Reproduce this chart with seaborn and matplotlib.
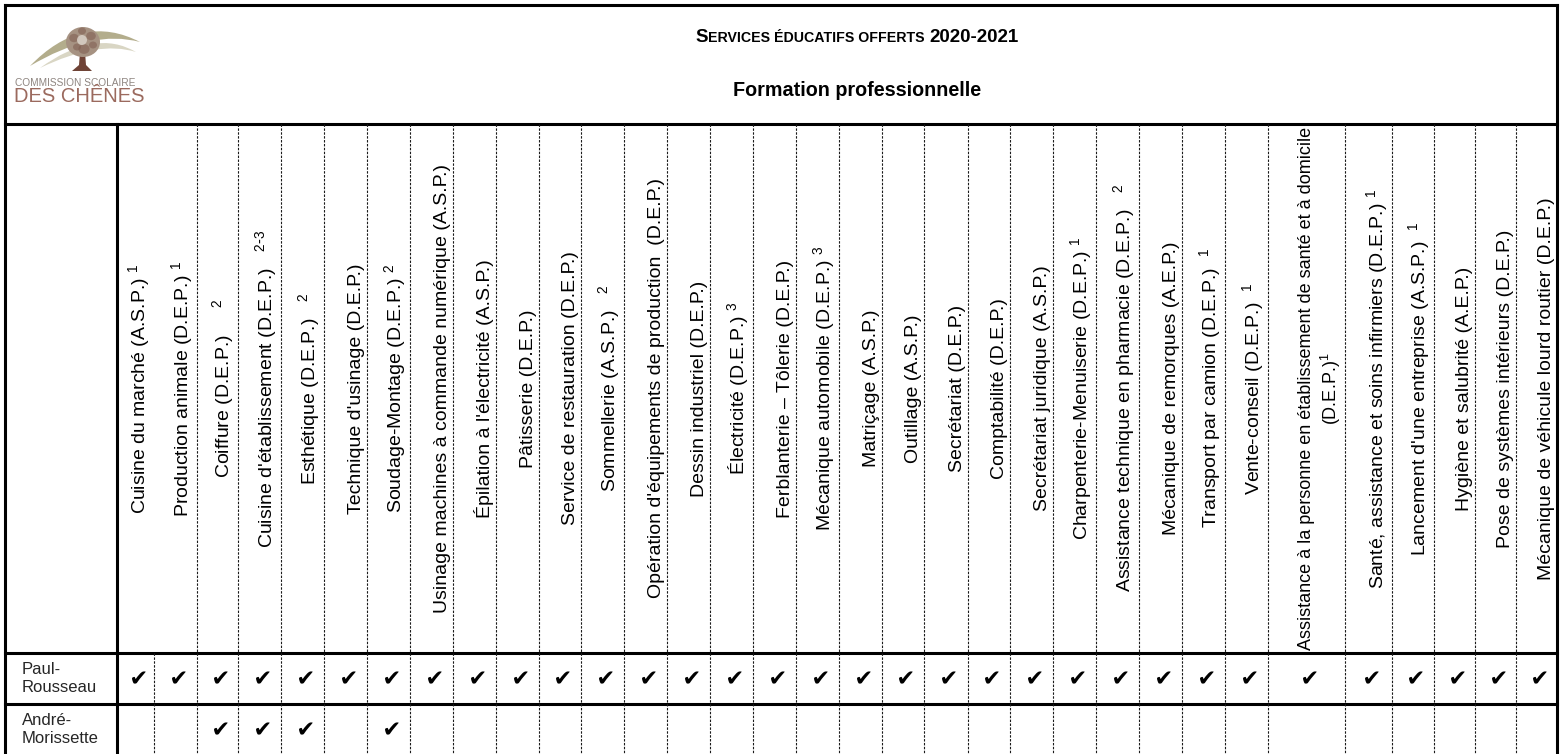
import numpy as np
import pandas as pd
import matplotlib
matplotlib.use('Agg')
import matplotlib.pyplot as plt
import seaborn as sns
from matplotlib.patches import Ellipse, Polygon, PathPatch
from matplotlib.path import Path
from matplotlib.textpath import TextPath
from matplotlib.font_manager import FontProperties
from matplotlib.offsetbox import TextArea, HPacker, AnnotationBbox

programmes = [
    "Cuisine du marché (A.S.P.)", "Production animale (D.E.P.)", "Coiffure (D.E.P.)",
    "Cuisine d'établissement (D.E.P.)", "Esthétique (D.E.P.)", "Technique d'usinage (D.E.P.)",
    "Soudage-Montage (D.E.P.)", "Usinage machines à commande numérique (A.S.P.)",
    "Épilation à l'électricité (A.S.P.)", "Pâtisserie (D.E.P.)", "Service de restauration (D.E.P.)",
    "Sommellerie (A.S.P.)", "Opération d'équipements de production  (D.E.P.)",
    "Dessin industriel (D.E.P.)", "Électricité (D.E.P.)", "Ferblanterie – Tôlerie (D.E.P.)",
    "Mécanique automobile (D.E.P.)", "Matriçage (A.S.P.)", "Outillage (A.S.P.)",
    "Secrétariat (D.E.P.)", "Comptabilité (D.E.P.)", "Secrétariat juridique (A.S.P.)",
    "Charpenterie-Menuiserie (D.E.P.)", "Assistance technique en pharmacie (D.E.P.)",
    "Mécanique de remorques (A.E.P.)", "Transport par camion (D.E.P.)", "Vente-conseil (D.E.P.)",
    "Assistance à la personne en établissement de santé et à domicile\n(D.E.P.)",
    "Santé, assistance et soins infirmiers (D.E.P.)", "Lancement d'une entreprise (A.S.P.)",
    "Hygiène et salubrité (A.E.P.)", "Pose de systèmes intérieurs (D.E.P.)",
    "Mécanique de véhicule lourd routier (D.E.P.)",
]
notes = ["1", "1", "2", "2\\text{-}3", "2", "", "2", "", "", "", "", "2", "", "", "3", "", "3",
         "", "", "", "", "", "1", "2", "", "1", "1", "1", "1", "1", "", "", ""]
note_gap = [" ", " ", "     ", "   ", "   ", "", " ", "", "", "", "", "   ", "", "", " ", "", " ",
            "", "", "", "", "", " ", "   ", "", "  ", "  ", "", " ", "  ", "", "", ""]

schools = ["Paul-\nRousseau", "André-\nMorissette"]
paul_rousseau = [1] * 33
andre_morissette = [0, 0, 1, 1, 1, 0, 1, 0, 0, 0, 0, 0, 0, 0, 0, 0, 0,
                    0, 0, 0, 0, 0, 0, 0, 0, 0, 0, 0, 0, 0, 0, 0, 0]
offered = [paul_rousseau, andre_morissette]

# --- layout (pixels) ---
col_edges = [117, 154, 197, 238, 281, 324, 367, 410, 453, 496, 539, 581, 624, 667, 710, 753,
             796, 839, 882, 924, 968, 1010, 1053, 1096, 1139, 1182, 1225, 1268, 1345, 1392,
             1434, 1475, 1516, 1557]
row_edges = [653, 704, 755]
left, right, top, title_bottom = 5, 1557, 5, 124

sns.set_theme(style='white')
plt.rcParams['font.family'] = ['Liberation Sans', 'DejaVu Sans']
plt.rcParams['mathtext.default'] = 'regular'

fig = plt.figure(figsize=(15.62, 7.54), dpi=100)
ax = fig.add_axes([0, 0, 1, 1])

# check mark glyph as a marker path
tp_check = TextPath((0, 0), '\u2714', size=1, prop=FontProperties(family='DejaVu Sans'))
v = tp_check.vertices
check_marker = Path(v - (v.min(0) + v.max(0)) / 2, tp_check.codes)

centers = [(a + b) / 2 for a, b in zip(col_edges[:-1], col_edges[1:])]
row_mid = [(a + b) / 2 for a, b in zip(row_edges[:-1], row_edges[1:])]
recs = []
for school, vals, ym in zip(schools, offered, row_mid):
    for prog, val, xc in zip(programmes, vals, centers):
        if val:
            recs.append({'school': school, 'programme': prog, 'x': xc + 1, 'y': ym - 1})
df = pd.DataFrame(recs)
sns.scatterplot(data=df, x='x', y='y', marker=check_marker, s=135, color='black',
                linewidth=0, ax=ax, legend=False)

# thick rules
thick = dict(color='black', lw=2.2, solid_capstyle='projecting')
ax.plot([left, left], [top, 755], **thick)
ax.plot([right, right], [top, 755], **thick)
ax.plot([left, right], [top, top], **thick)
ax.plot([left, right], [title_bottom, title_bottom], **thick)
ax.plot([col_edges[0], col_edges[0]], [title_bottom, 755], **thick)
for y in row_edges[:-1]:
    ax.plot([left, right], [y, y], **thick)

# dashed column separators
dash = dict(color='#1a1a1a', lw=0.8, linestyle=(0, (2.2, 1.3)))
for x in col_edges[2:-1]:
    ax.plot([x, x], [title_bottom, row_edges[0]], **dash)
for x in col_edges[1:-1]:
    ax.plot([x, x], [row_edges[0], 755], **dash)

# column headers
header_mid = (title_bottom + row_edges[0]) / 2
for prog, note, gap, redge in zip(programmes, notes, note_gap, col_edges[1:]):
    label = prog + (gap + '$^{' + note + '}$' if note else '')
    fs = 13 if '\n' in prog else 14
    ax.text(redge - 2, header_mid, label, rotation=90, rotation_mode='anchor',
            ha='center', va='bottom', fontsize=fs, multialignment='center',
            linespacing=1.2, color='black')

# row labels
for school, ym in zip(schools, row_mid):
    ax.text(22, ym, school, ha='left', va='center', fontsize=12, linespacing=1.3)

# title
tp = dict(family=['Liberation Sans', 'DejaVu Sans'], weight='bold', color='black')
part1 = HPacker(children=[TextArea('S', textprops={**tp, 'size': 13.5}),
                          TextArea('ERVICES ÉDUCATIFS OFFERTS', textprops={**tp, 'size': 10.2})],
                align='baseline', pad=0, sep=0)
line1 = HPacker(children=[part1, TextArea('2020-2021', textprops={**tp, 'size': 13.5})],
                align='baseline', pad=0, sep=4)
ax.add_artist(AnnotationBbox(line1, (857, 37), xycoords='data', frameon=False,
                             box_alignment=(0.5, 0.5)))
ax.text(857, 90, 'Formation professionnelle', ha='center', va='center', fontsize=14.2, **tp)

# logo
sw1 = Path([(30, 66), (82, 12), (140, 42), (92, 29), (30, 66)],
           [Path.MOVETO, Path.CURVE3, Path.CURVE3, Path.CURVE3, Path.CURVE3])
sw2 = Path([(40, 68), (95, 28), (136, 52), (98, 40), (40, 68)],
           [Path.MOVETO, Path.CURVE3, Path.CURVE3, Path.CURVE3, Path.CURVE3])
ax.add_patch(PathPatch(sw1, facecolor='#b3ad8c', edgecolor='none'))
ax.add_patch(PathPatch(sw2, facecolor='#d9d6c4', edgecolor='none'))
ax.add_patch(Polygon([(80, 52), (85, 52), (86, 65), (92, 71), (72, 71), (79, 65)],
                     closed=True, facecolor='#6f4336', edgecolor='none'))
ax.add_patch(Ellipse((83, 42), 34, 30, facecolor='#a69282', edgecolor='none'))
for cx, cy, r in [(74, 38, 6), (91, 36, 6), (84, 49, 7), (77, 47, 5), (93, 45, 5), (82, 31, 5)]:
    ax.add_patch(Ellipse((cx, cy), r * 1.6, r * 1.4, facecolor='#7e5d50', edgecolor='none', alpha=0.55))
ax.add_patch(Ellipse((82, 40), 10, 10, facecolor='#ddd5cc', edgecolor='none', alpha=0.8))
ax.text(15, 83, 'COMMISSION SCOLAIRE', fontsize=7.3, color='#8e8580', va='center', ha='left')
ax.text(14, 96, 'DES CHÊNES', fontsize=14.5, color='#9b6a5e', va='center', ha='left')

ax.set_xlim(0, 1562)
ax.set_ylim(754, 0)
ax.axis('off')

fig.savefig('out.png', dpi=100)
